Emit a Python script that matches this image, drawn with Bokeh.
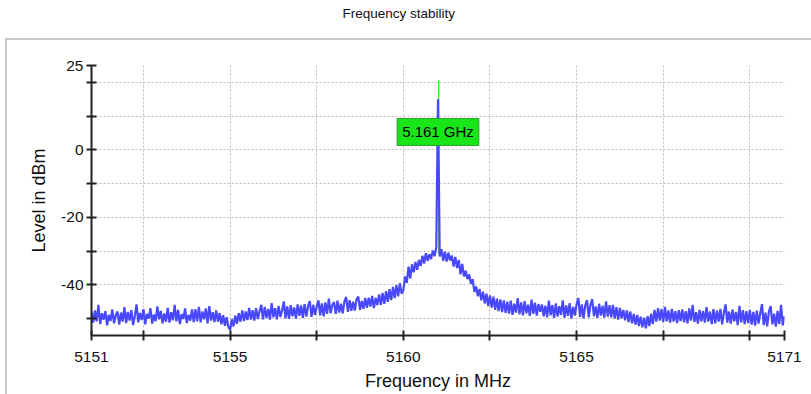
from bokeh.plotting import figure
from bokeh.models import Range1d, FixedTicker, Label, InlineStyleSheet, Title
from bokeh.embed import file_html
from bokeh.resources import INLINE

# ---------------- data ----------------
TITLE = "Frequency stability"
X_LABEL = "Frequency in MHz"
Y_LABEL = "Level in dBm"

FREQ_START = 5151.0   # MHz, first sweep point
FREQ_STEP = 0.05      # MHz between sweep points

# measured level (dBm), one row per MHz, 20 points each
LEVEL_DBM = [
    -48.1, -51.2, -47.6, -50.8, -45.9, -51.6, -48.4, -50.3, -47.8, -52.0, -48.9, -50.7, -47.3, -51.4, -49.0, -47.9, -51.8, -48.2, -50.9, -46.6,
    -51.3, -48.0, -50.6, -47.5, -51.9, -49.2, -45.8, -51.1, -48.3, -50.4, -47.2, -51.7, -48.6, -50.0, -46.9, -51.5, -48.8, -50.8, -46.4, -50.2,
    -47.7, -51.4, -48.5, -50.9, -46.8, -51.2, -48.1, -50.5, -45.9, -50.8, -47.4, -51.6, -48.7, -50.1, -47.0, -51.3, -48.9, -50.6, -47.3, -51.0,
    -47.2, -50.8, -46.5, -51.1, -47.9, -50.2, -47.0, -51.4, -46.3, -50.6, -48.1, -51.0, -47.6, -50.9, -48.4, -51.7, -49.0, -52.1, -49.6, -52.4,
    -53.4, -50.2, -52.3, -49.1, -51.5, -48.4, -50.9, -47.6, -50.7, -47.9, -50.4, -46.8, -50.3, -47.5, -50.6, -46.9, -50.1, -47.8, -45.9, -50.2,
    -46.5, -49.8, -47.1, -50.3, -45.4, -49.6, -46.9, -50.2, -46.2, -49.5, -47.6, -44.9, -49.9, -46.4, -50.1, -46.0, -49.3, -46.7, -50.0, -45.8,
    -49.2, -46.1, -49.8, -45.7, -49.4, -46.3, -44.8, -49.5, -45.9, -48.9, -46.4, -44.6, -49.0, -45.5, -49.3, -45.2, -48.6, -44.1, -48.4, -46.0,
    -45.1, -48.6, -44.7, -48.2, -45.6, -48.4, -44.9, -43.6, -48.0, -44.5, -47.7, -45.0, -47.6, -44.3, -43.5, -47.4, -44.8, -47.1, -43.9, -46.8,
    -43.8, -46.4, -43.3, -46.9, -43.9, -46.0, -42.8, -45.9, -42.4, -45.6, -41.9, -45.0, -41.3, -44.5, -40.6, -43.9, -40.1, -43.4, -39.5, -42.6,
    -41.6, -37.5, -39.4, -34.6, -38.1, -33.9, -36.3, -33.2, -35.5, -32.6, -34.4, -31.4, -33.7, -30.6, -32.9, -30.9, -32.4, -29.8, -31.5, -28.9,
    15.0, -31.6, -29.4, -32.9, -30.2, -33.1, -30.5, -32.8, -31.3, -34.6, -31.7, -35.0, -32.6, -36.9, -33.8, -37.5, -35.8, -38.3, -36.9, -39.7,
    -38.3, -42.1, -40.5, -43.4, -41.2, -44.6, -42.0, -45.5, -42.6, -46.3, -43.1, -46.7, -43.5, -47.4, -44.1, -47.8, -44.3, -48.1, -44.6, -48.3,
    -45.0, -48.5, -44.7, -48.9, -45.6, -48.2, -43.9, -48.7, -45.2, -49.0, -44.8, -48.4, -45.9, -49.2, -44.4, -48.6, -45.3, -49.1, -45.7, -48.0,
    -45.8, -49.3, -46.2, -49.6, -44.7, -49.0, -46.0, -49.8, -45.5, -49.4, -46.3, -48.9, -44.6, -49.7, -46.1, -49.2, -45.4, -50.0, -46.5, -49.1,
    -45.7, -43.9, -49.5, -45.8, -49.9, -46.1, -44.5, -49.6, -45.9, -44.2, -49.3, -46.4, -49.8, -45.6, -49.1, -46.2, -49.7, -44.9, -49.4, -46.0,
    -49.6, -45.9, -50.0, -46.6, -50.3, -46.8, -49.9, -47.4, -50.5, -47.6, -51.0, -47.9, -51.4, -48.6, -51.8, -48.9, -52.2, -49.4, -52.6, -49.7,
    -52.9, -49.3, -52.2, -48.5, -51.6, -47.4, -50.9, -46.9, -50.6, -47.2, -51.0, -46.5, -50.8, -47.6, -51.2, -47.1, -50.9, -47.8, -51.3, -47.5,
    -50.7, -47.3, -51.1, -47.8, -51.4, -47.0, -50.6, -45.9, -51.0, -48.1, -51.5, -47.4, -50.8, -47.7, -51.2, -46.6, -50.9, -47.9, -51.6, -47.2,
    -51.4, -47.6, -50.9, -47.1, -51.7, -48.3, -45.8, -51.2, -47.9, -51.5, -47.3, -50.8, -48.0, -51.9, -46.2, -51.1, -47.5, -51.6, -47.8, -51.3,
    -47.4, -51.8, -48.0, -52.1, -47.6, -51.5, -48.4, -45.7, -51.9, -48.2, -52.3, -47.9, -46.3, -51.7, -48.5, -52.4, -47.7, -51.6, -45.9, -52.0,
    -49.3,
]

# max-hold trace of the carrier (green)
PEAK_FREQ = [5161.02, 5161.02]
PEAK_LEVEL = [-31.0, 20.6]

MARKER_FREQ = 5161.0
MARKER_LEVEL = 5.3
MARKER_TEXT = "5.161 GHz"

X_RANGE = (5151, 5171)
Y_RANGE = (-55, 25)
X_TICKS = [5151, 5152.5, 5155, 5157.5, 5160, 5162.5, 5165, 5167.5, 5170, 5171]
X_TICK_LABELS = [5151, 5155, 5160, 5165, 5171]
Y_TICKS = [25, 20, 10, 0, -10, -20, -30, -40, -50]
Y_TICK_LABELS = [25, 0, -20, -40]

FREQ = [round(FREQ_START + i * FREQ_STEP, 2) for i in range(len(LEVEL_DBM))]

# ---------------- figure ----------------
W, H = 811, 394
FL, FR, FT, FB = 91, 27, 65, 59  # frame borders

FONT = "Liberation Sans"

panel_css = InlineStyleSheet(css="""
:host::after {
  content: "";
  position: absolute;
  left: 5px; top: 38px; right: 0px; bottom: 0px;
  border-left: 2px solid #c8c8c8;
  border-top: 2px solid #c8c8c8;
  pointer-events: none;
}
""")

p = figure(width=W, height=H, output_backend="svg", toolbar_location=None,
           x_range=Range1d(*X_RANGE), y_range=Range1d(*Y_RANGE),
           min_border_left=FL, min_border_right=FR, min_border_top=FT,
           min_border_bottom=FB, stylesheets=[panel_css])
p.title = None
p.outline_line_color = None
p.background_fill_color = "white"
p.border_fill_color = "white"

# spacer between frame and title, then the title itself
p.add_layout(Title(text=" ", text_font_size="2px", standoff=39), "above")
p.add_layout(Title(text=TITLE, align="left", offset=251, vertical_align="top",
                   standoff=0, text_font=FONT, text_font_size="13.5px",
                   text_font_style="normal", text_color="#111111"), "above")

# grid
for g in (p.xgrid, p.ygrid):
    g.grid_line_color = "#bdbdbd"
    g.grid_line_dash = "2 2"
    g.grid_line_width = 1

p.xaxis.ticker = FixedTicker(ticks=X_TICKS)
p.yaxis.ticker = FixedTicker(ticks=Y_TICKS)
p.xgrid.ticker = FixedTicker(ticks=X_TICKS)
p.ygrid.ticker = FixedTicker(ticks=Y_TICKS)
p.xaxis.major_label_overrides = {t: (str(t) if t in X_TICK_LABELS else "") for t in X_TICKS}
p.yaxis.major_label_overrides = {t: (str(t) if t in Y_TICK_LABELS else "") for t in Y_TICKS}

for ax in (p.xaxis, p.yaxis):
    ax.axis_line_color = "#222222"
    ax.axis_line_width = 2
    ax.major_tick_line_color = "#222222"
    ax.major_tick_line_width = 2
    ax.major_tick_in = 5
    ax.major_tick_out = 5
    ax.minor_tick_line_color = None
    ax.major_label_text_font = FONT
    ax.major_label_text_font_size = "15.5px"
    ax.major_label_text_color = "#111111"
    ax.axis_label_text_font = FONT
    ax.axis_label_text_font_size = "18px"
    ax.axis_label_text_font_style = "normal"
    ax.axis_label_text_color = "#111111"

p.xaxis.axis_label = X_LABEL
p.yaxis.axis_label = Y_LABEL
p.xaxis.major_label_standoff = 11
p.xaxis.axis_label_standoff = 6
p.yaxis.major_label_standoff = 3
p.yaxis.axis_label_standoff = 9

# traces
p.line(PEAK_FREQ, PEAK_LEVEL, line_color="#33ee33", line_width=1.3)
p.line(FREQ, LEVEL_DBM, line_color="#4848ff", line_width=2.2)

# marker label
p.add_layout(Label(x=MARKER_FREQ, y=MARKER_LEVEL, text=MARKER_TEXT,
                   text_align="center", text_baseline="middle",
                   text_font=FONT, text_font_size="15px", text_color="black",
                   background_fill_color="#19e619", border_line_color="#2a9d2a",
                   border_line_width=1, padding=5))

open("out.html", "w").write(file_html(p, INLINE))
